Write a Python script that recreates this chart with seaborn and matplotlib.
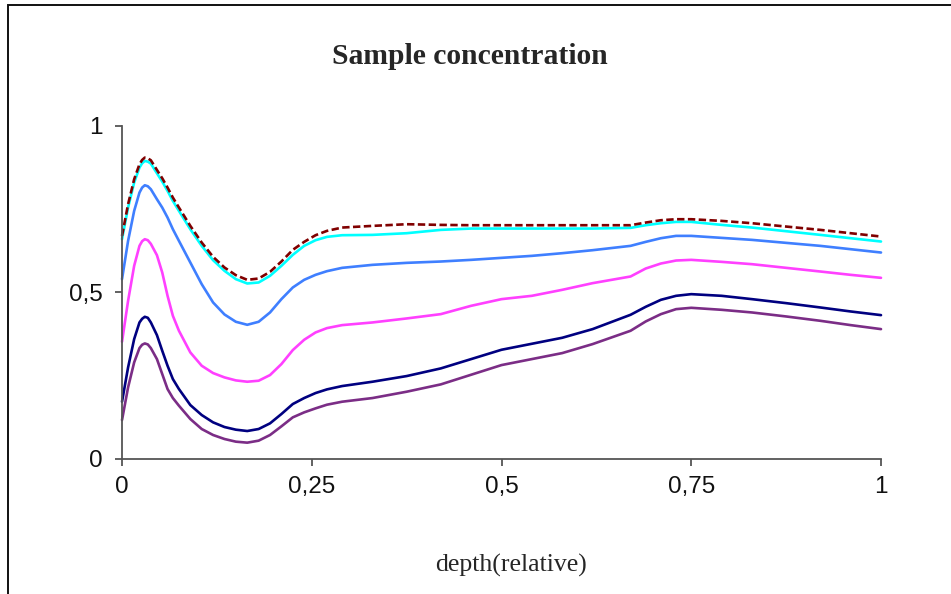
### Bibliotecas
import matplotlib
matplotlib.use("Agg")
import matplotlib.pyplot as plt
from matplotlib.patches import Rectangle
import seaborn as sns

### Dados
depth = [0, 0.008, 0.016, 0.023, 0.0265, 0.03, 0.034, 0.038, 0.046, 0.053, 0.06, 0.067, 0.075, 0.09, 0.105, 0.12,
		0.135, 0.15, 0.165, 0.18, 0.195, 0.21, 0.225, 0.24, 0.255, 0.27, 0.29, 0.33, 0.375, 0.42, 0.46, 0.5,
		0.54, 0.58, 0.62, 0.67, 0.69, 0.71, 0.73, 0.75, 0.79, 0.83, 0.875, 0.92, 0.96, 1.0]

conc_darkred = [0.67, 0.765, 0.84, 0.885, 0.898, 0.905, 0.903, 0.897, 0.868, 0.843, 0.815, 0.785, 0.755, 0.70, 0.65, 0.607,
		0.575, 0.552, 0.538, 0.542, 0.562, 0.593, 0.628, 0.652, 0.672, 0.685, 0.695, 0.70, 0.705, 0.703, 0.702, 0.702,
		0.702, 0.702, 0.702, 0.702, 0.71, 0.717, 0.72, 0.72, 0.715, 0.708, 0.698, 0.688, 0.678, 0.668]

conc_cyan = [0.66, 0.755, 0.83, 0.875, 0.888, 0.895, 0.893, 0.887, 0.858, 0.833, 0.805, 0.775, 0.745, 0.69, 0.64, 0.597,
		0.565, 0.54, 0.527, 0.53, 0.55, 0.58, 0.613, 0.64, 0.657, 0.667, 0.672, 0.673, 0.678, 0.688, 0.692, 0.692,
		0.692, 0.692, 0.692, 0.694, 0.702, 0.708, 0.712, 0.712, 0.703, 0.695, 0.684, 0.673, 0.663, 0.653]

conc_blue = [0.54, 0.655, 0.745, 0.8, 0.815, 0.822, 0.819, 0.81, 0.78, 0.755, 0.725, 0.69, 0.655, 0.59, 0.525, 0.47,
		0.434, 0.412, 0.403, 0.412, 0.44, 0.48, 0.515, 0.538, 0.553, 0.564, 0.574, 0.583, 0.589, 0.593, 0.598, 0.604,
		0.61, 0.618, 0.627, 0.64, 0.652, 0.663, 0.67, 0.67, 0.664, 0.658, 0.649, 0.64, 0.63, 0.62]

conc_magenta = [0.352, 0.475, 0.58, 0.64, 0.654, 0.66, 0.657, 0.646, 0.612, 0.56, 0.49, 0.43, 0.385, 0.32, 0.28, 0.258,
		0.245, 0.236, 0.232, 0.235, 0.252, 0.285, 0.327, 0.358, 0.38, 0.393, 0.402, 0.41, 0.422, 0.435, 0.46, 0.48,
		0.49, 0.508, 0.528, 0.548, 0.572, 0.587, 0.596, 0.598, 0.592, 0.585, 0.574, 0.563, 0.553, 0.544]

conc_navy = [0.172, 0.275, 0.36, 0.41, 0.421, 0.427, 0.424, 0.41, 0.372, 0.325, 0.28, 0.24, 0.21, 0.162, 0.132, 0.11,
		0.096, 0.088, 0.084, 0.09, 0.107, 0.135, 0.165, 0.183, 0.198, 0.209, 0.219, 0.232, 0.249, 0.272, 0.30, 0.328,
		0.346, 0.364, 0.39, 0.433, 0.457, 0.478, 0.49, 0.495, 0.49, 0.48, 0.468, 0.455, 0.443, 0.432]

conc_purple = [0.117, 0.215, 0.29, 0.333, 0.343, 0.347, 0.344, 0.333, 0.30, 0.255, 0.21, 0.183, 0.16, 0.12, 0.09, 0.072,
		0.06, 0.052, 0.049, 0.055, 0.072, 0.098, 0.125, 0.14, 0.152, 0.163, 0.172, 0.183, 0.202, 0.224, 0.253, 0.282,
		0.3, 0.318, 0.345, 0.385, 0.413, 0.435, 0.45, 0.454, 0.448, 0.44, 0.428, 0.415, 0.402, 0.39]

xticks = [0, 0.25, 0.5, 0.75, 1]
xtick_labels = ["0", "0,25", "0,5", "0,75", "1"]
yticks = [0, 0.5, 1]
ytick_labels = ["0", "0,5", "1"]

### Estilo
sns.set_style("ticks")
plt.rcParams["font.family"] = ["Liberation Sans", "DejaVu Sans"]

fig, ax = plt.subplots(figsize = (9.51, 5.94), dpi = 100)
fig.subplots_adjust(left = 0.1283, right = 0.9264, bottom = 0.2273, top = 0.7879)

### Curvas
series = [(conc_purple, "#7B2D86", "-"), (conc_navy, "#000080", "-"),
		(conc_magenta, "#FF40FF", "-"), (conc_blue, "#3F7FFF", "-"),
		(conc_cyan, "#00FFFF", "-"), (conc_darkred, "#800000", (0, (2.8, 1.3)))]
for valores, cor, estilo in series:
	sns.lineplot(x = depth, y = valores, color = cor, linewidth = 1.9, linestyle = estilo,
				solid_joinstyle = "round", clip_on = False, ax = ax)

### Eixos
ax.set_xlim(0, 1)
ax.set_ylim(0, 1)
ax.set_xticks(xticks, xtick_labels)
ax.set_yticks(yticks, ytick_labels)
sns.despine(ax = ax)
for lado in ["left", "bottom"]:
	ax.spines[lado].set_color("#555555")
	ax.spines[lado].set_linewidth(1.3)
ax.tick_params(axis = "both", colors = "#555555", length = 5, width = 1.3, labelsize = 17.5, labelcolor = "#111111")
ax.tick_params(axis = "y", pad = 9)
ax.tick_params(axis = "x", pad = 7)
ax.set_xlabel("")
ax.set_ylabel("")

### Textos
fig.text(469.5 / 951, 1 - 57 / 594, "Sample concentration", ha = "center", va = "center",
		fontsize = 21.3, fontweight = "bold", family = "Liberation Serif")
fig.text(511 / 951, 1 - 565 / 594, "depth(relative)", ha = "center", va = "center",
		fontsize = 18.5, family = "Liberation Serif")

### Moldura
fig.add_artist(Rectangle((7.5 / 951, -0.1), 1.2, 1.1 - 5 / 594, transform = fig.transFigure,
						fill = False, edgecolor = "#111111", linewidth = 1.4))

plt.savefig("out.png", dpi = 100)
